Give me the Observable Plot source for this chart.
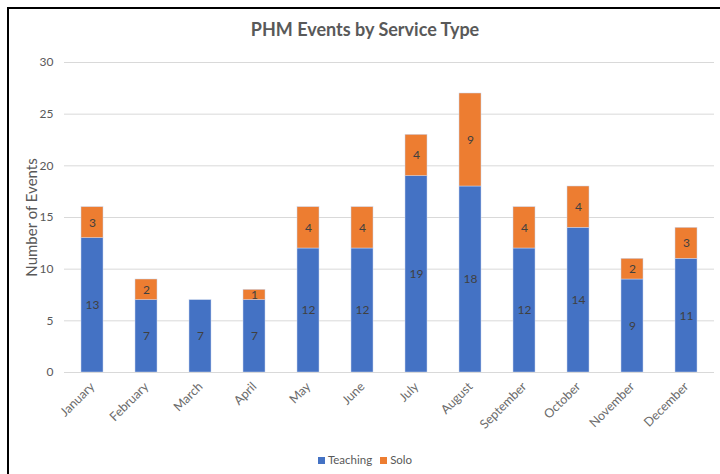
<!DOCTYPE html>
<html>
<head>
<meta charset="utf-8">
<script src="https://cdn.jsdelivr.net/npm/d3@7"></script>
<script src="https://cdn.jsdelivr.net/npm/@observablehq/plot@0.6"></script>
<style>
  html, body { margin: 0; padding: 0; background: #fff; }
  #wrap { position: relative; width: 720px; height: 474px; overflow: hidden; font-family: Lato, "Open Sans", sans-serif; }
  #frame { position: absolute; left: 7px; top: 7px; width: 760px; height: 520px; border-left: 2px solid #000; border-top: 2px solid #000; box-sizing: border-box; }
  #title { position: absolute; left: 0; width: 730px; top: 18px; text-align: center; font-size: 18px; font-weight: bold; color: #595959; }
  #chart { position: absolute; left: 0; top: 50px; }
  #legend { position: absolute; left: 0; width: 730px; top: 453px; text-align: center; font-size: 11.5px; color: #595959; }
  #legend span.sw { display: inline-block; width: 7px; height: 7px; margin-right: 3px; vertical-align: 0px; }
  #legend span.item { margin: 0 4px; }
</style>
</head>
<body>
<div id="wrap">
  <div id="frame"></div>
  <div id="title">PHM Events by Service Type</div>
  <div id="chart"></div>
  <div id="legend"></div>
</div>
<script>
const months = ["January","February","March","April","May","June","July","August","September","October","November","December"];
const series = ["Teaching","Solo"];
const colors = ["#4472C4","#ED7D31"];
const teaching = [13,7,7,7,12,12,19,18,12,14,9,11];
const solo = [3,2,0,1,4,4,4,9,4,4,2,3];
const yTicks = [0,5,10,15,20,25,30];

const data = [];
months.forEach((m, i) => data.push({month: m, series: "Teaching", value: teaching[i]}));
months.forEach((m, i) => data.push({month: m, series: "Solo", value: solo[i]}));

const chart = Plot.plot({
  width: 720,
  height: 395,
  marginTop: 12,
  marginBottom: 73,
  marginLeft: 64,
  marginRight: 6,
  style: {fontFamily: "Lato, 'Open Sans', sans-serif", fontSize: "12px", color: "#595959", background: "transparent"},
  x: {domain: months, paddingInner: 0.6, paddingOuter: 0.3, align: 0.5, label: null},
  y: {domain: [0, 30], label: null},
  color: {domain: series, range: colors},
  marks: [
    Plot.gridY(yTicks, {stroke: "#d9d9d9", strokeOpacity: 1, strokeWidth: 1}),
    Plot.axisY(yTicks, {tickSize: 0, tickPadding: 11, label: null, fill: "#595959", fontSize: 12}),
    Plot.axisY({tickSize: 0, ticks: [], label: "Number of Events", labelAnchor: "center", labelArrow: "none", labelOffset: 38, fill: "#595959", fontSize: 15}),
    Plot.axisX({tickSize: 0, tickPadding: 12, tickRotate: -45, label: null, fill: "#6b6b6b", fontSize: 12.5}),
    Plot.barY(data, {x: "month", y: "value", fill: "series", z: "series", stroke: "#c9d6ee", strokeWidth: 0.5}),
    Plot.ruleY([0], {stroke: "#d9d9d9"}),
    Plot.text(data, Plot.stackY({x: "month", y: "value", z: "series", text: d => d.value > 0 ? String(d.value) : "", fill: "#404040", fontSize: 12}))
  ]
});
document.getElementById("chart").appendChild(chart);

const legend = document.getElementById("legend");
series.forEach((s, i) => {
  const item = document.createElement("span");
  item.className = "item";
  const sw = document.createElement("span");
  sw.className = "sw";
  sw.style.background = colors[i];
  item.appendChild(sw);
  item.appendChild(document.createTextNode(s));
  legend.appendChild(item);
});
</script>
</body>
</html>
